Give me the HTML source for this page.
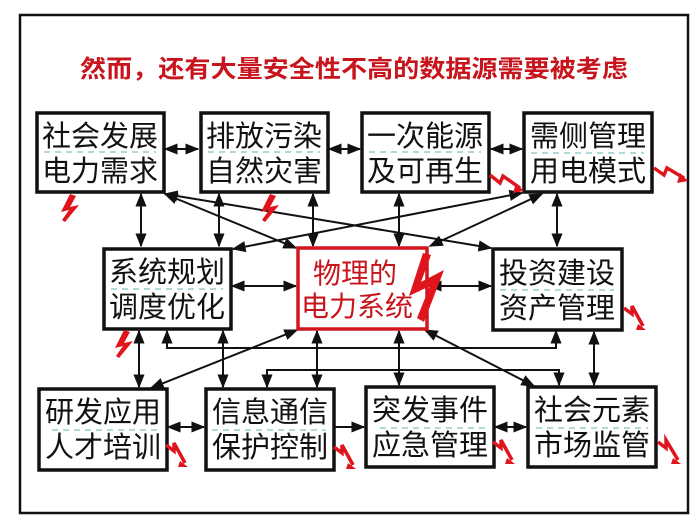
<!DOCTYPE html>
<html><head><meta charset="utf-8"><style>
body{margin:0;background:#fff;}
svg{display:block;}
text{font-family:"Liberation Sans","Noto Sans CJK SC",sans-serif;}
</style></head><body>
<svg width="698" height="526" viewBox="0 0 698 526" xmlns="http://www.w3.org/2000/svg">
<defs>
<marker id="a" viewBox="0 0 10 10" refX="9" refY="5" markerWidth="7" markerHeight="7" orient="auto-start-reverse"><path d="M0,1 L10,5 L0,9 z" fill="#111"/></marker>
</defs>
<rect x="0" y="0" width="698" height="526" fill="#fff"/>
<rect x="20" y="15" width="668" height="498" fill="#fff" stroke="#111" stroke-width="2.5"/>
<text x="354" y="77" font-size="24" fill="#c8141c" text-anchor="middle" font-weight="bold" textLength="548" lengthAdjust="spacingAndGlyphs">然而，还有大量安全性不高的数据源需要被考虑</text>

<g stroke="#111" stroke-width="2" fill="none">
<line x1="165" y1="149" x2="198" y2="149" marker-start="url(#a)" marker-end="url(#a)"/>
<line x1="329" y1="149" x2="360" y2="149" marker-start="url(#a)" marker-end="url(#a)"/>
<line x1="491" y1="149" x2="522" y2="149" marker-start="url(#a)" marker-end="url(#a)"/>
<line x1="141" y1="194" x2="141" y2="246" marker-start="url(#a)" marker-end="url(#a)"/>
<line x1="219" y1="194" x2="219" y2="246" marker-start="url(#a)" marker-end="url(#a)"/>
<line x1="313" y1="194" x2="313" y2="246" marker-start="url(#a)" marker-end="url(#a)"/>
<line x1="399" y1="194" x2="399" y2="246" marker-start="url(#a)" marker-end="url(#a)"/>
<line x1="557" y1="194" x2="557" y2="246" marker-start="url(#a)" marker-end="url(#a)"/>
<line x1="165" y1="194" x2="296" y2="248" marker-start="url(#a)" marker-end="url(#a)"/>
<line x1="165" y1="194" x2="491" y2="248" marker-start="url(#a)" marker-end="url(#a)"/>
<line x1="233" y1="249" x2="522" y2="193" marker-start="url(#a)" marker-end="url(#a)"/>
<line x1="430" y1="246" x2="542" y2="194" marker-start="url(#a)" marker-end="url(#a)"/>
<line x1="232" y1="286" x2="296" y2="286" marker-start="url(#a)" marker-end="url(#a)"/>
<line x1="429" y1="286" x2="491" y2="286" marker-start="url(#a)" marker-end="url(#a)"/>
<polyline points="167,331 167,348 556,348 556,331" marker-start="url(#a)" marker-end="url(#a)"/>
<line x1="139" y1="331" x2="139" y2="387" marker-start="url(#a)" marker-end="url(#a)"/>
<line x1="223" y1="331" x2="223" y2="387" marker-start="url(#a)" marker-end="url(#a)"/>
<line x1="317" y1="331" x2="317" y2="387" marker-start="url(#a)" marker-end="url(#a)"/>
<line x1="399" y1="331" x2="399" y2="385" marker-start="url(#a)" marker-end="url(#a)"/>
<line x1="594" y1="332" x2="594" y2="385" marker-start="url(#a)" marker-end="url(#a)"/>
<line x1="297" y1="330" x2="151" y2="388" marker-start="url(#a)" marker-end="url(#a)"/>
<line x1="425" y1="330" x2="534" y2="386" marker-start="url(#a)" marker-end="url(#a)"/>
<polyline points="267,387 267,370 559,370 559,385" marker-start="url(#a)" marker-end="url(#a)"/>
<line x1="168" y1="427" x2="204" y2="427" marker-start="url(#a)" marker-end="url(#a)"/>
<line x1="335" y1="427" x2="364" y2="427" marker-end="url(#a)"/>
<line x1="495" y1="427" x2="526" y2="427" marker-start="url(#a)" marker-end="url(#a)"/>
</g>

<g fill="#fff" stroke="#111" stroke-width="3.5">
<rect x="37" y="113" width="127" height="79"/>
<rect x="201" y="113" width="127" height="79"/>
<rect x="362" y="113" width="127" height="79"/>
<rect x="524" y="113" width="128" height="79"/>
<rect x="104" y="249" width="127" height="80"/>
<rect x="493" y="249" width="129" height="81"/>
<rect x="39" y="389" width="128" height="81"/>
<rect x="206" y="389" width="128" height="81"/>
<rect x="366" y="387" width="128" height="80"/>
<rect x="528" y="387" width="128" height="80"/>
</g>
<rect x="298" y="248" width="129" height="81" fill="#fff" stroke="#d0161e" stroke-width="3.5"/>

<g stroke="#9cc" stroke-width="1.5" stroke-dasharray="6,5">
<line x1="44" y1="152" x2="156" y2="152"/>
<line x1="208" y1="152" x2="320" y2="152"/>
<line x1="369" y1="152" x2="481" y2="152"/>
<line x1="531" y1="153" x2="644" y2="153"/>
<line x1="111" y1="289" x2="223" y2="289"/>
<line x1="500" y1="290" x2="614" y2="290"/>
<line x1="52" y1="430" x2="158" y2="430"/>
<line x1="212" y1="430" x2="326" y2="430"/>
<line x1="380" y1="428" x2="486" y2="428"/>
<line x1="536" y1="428" x2="648" y2="428"/>
</g>

<g font-size="29" fill="#111" text-anchor="middle">
<text x="100" y="146">社会发展</text><text x="100" y="181">电力需求</text>
<text x="264" y="146">排放污染</text><text x="264" y="181">自然灾害</text>
<text x="425" y="146">一次能源</text><text x="425" y="181">及可再生</text>
<text x="588" y="146">需侧管理</text><text x="588" y="181">用电模式</text>
<text x="167" y="282">系统规划</text><text x="167" y="317">调度优化</text>
<text x="557" y="283">投资建设</text><text x="557" y="318">资产管理</text>
<text x="103" y="422">研发应用</text><text x="103" y="457">人才培训</text>
<text x="270" y="422">信息通信</text><text x="270" y="457">保护控制</text>
<text x="430" y="420">突发事件</text><text x="430" y="455">应急管理</text>
<text x="592" y="420">社会元素</text><text x="592" y="455">市场监管</text>
</g>
<g font-size="28" fill="#c8141c" text-anchor="middle">
<text x="355" y="283">物理的</text><text x="357" y="316">电力系统</text>
</g>

<g fill="#e0141c">
<polygon points="423,253 431,255 421,282 444,270 424,322 417,318 430,286 409,296"/>
<polygon points="70,194 76,196 70,207 79,205 65,222 62,220 69,210 61,212"/>
<polygon points="270,194 276,196 270,207 279,205 265,222 262,220 269,210 261,212"/>
<polygon points="124,330 130,332 124,343 133,341 119,358 116,356 123,346 115,348"/>
</g>
<g stroke="#e0141c" stroke-width="3.5" fill="none" stroke-linejoin="miter">
<polyline points="490,175 500,183 503,176 520,188"/>
<polyline points="654,168 664,175 667,168 684,178"/>
<polyline points="624,308 632,314 632,306 643,326"/>
<polyline points="166,445 174,451 174,443 185,463"/>
<polyline points="334,447 342,453 342,445 353,465"/>
<polyline points="493,442 501,448 501,440 512,460"/>
<polyline points="658,442 666,448 666,440 678,460"/>
</g>
<g fill="#e0141c">
<polygon points="516,183 524,191 513,193"/>
<polygon points="680,173 688,181 677,183"/>
<polygon points="638,324 646,330 636,330"/>
<polygon points="180,461 188,467 178,467"/>
<polygon points="348,463 356,469 346,469"/>
<polygon points="507,458 515,464 505,464"/>
<polygon points="673,458 681,464 671,464"/>
</g>
</svg>
</body></html>
